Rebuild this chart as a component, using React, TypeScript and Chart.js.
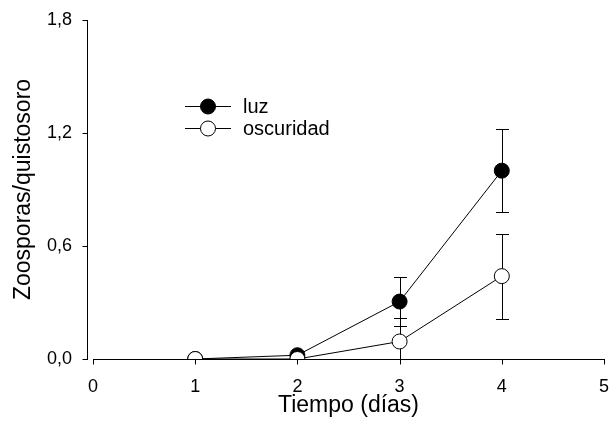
import React, { useEffect, useRef } from "react";
import { Chart, registerables } from "chart.js";

Chart.register(...registerables);

const days = [1, 2, 3, 4];
const luz = [0, 0.02, 0.305, 1.0];
const luzErr = [0, 0, 0.128, 0.22];
const oscuridad = [0, 0, 0.093, 0.44];
const oscuridadErr = [0, 0, 0.125, 0.225];
const xTicks = [0, 1, 2, 3, 4, 5];
const yTicks = [0, 0.6, 1.2, 1.8];
const seriesNames = ["luz", "oscuridad"];

const FONT = "'Liberation Sans', Arial, sans-serif";
const AREA = { left: 93, right: 604, top: 20, bottom: 359 };
const W = 614;
const H = 421;

const fixedAreaPlugin = {
  id: "fixedArea",
  afterLayout(chart: any) {
    const { left, right, top, bottom } = AREA;
    chart.chartArea = { left, right, top, bottom, width: right - left, height: bottom - top };
    const x = chart.scales.x;
    x.left = left; x.right = right; x.width = right - left;
    x.top = bottom; x.bottom = H; x.height = H - bottom;
    x.configure();
    const y = chart.scales.y;
    y.left = 0; y.right = left; y.width = left;
    y.top = top; y.bottom = bottom; y.height = bottom - top;
    y.configure();
  },
};

const errorBarPlugin = {
  id: "errorBars",
  beforeDatasetsDraw(chart: any) {
    const ctx = chart.ctx;
    const xs = chart.scales.x;
    const ys = chart.scales.y;
    const area = chart.chartArea;
    const sets = [
      { v: luz, e: luzErr },
      { v: oscuridad, e: oscuridadErr },
    ];
    ctx.save();
    ctx.beginPath();
    ctx.rect(area.left - 10, area.top - 10, area.right - area.left + 20, area.bottom - area.top + 10);
    ctx.clip();
    ctx.strokeStyle = "#000";
    ctx.lineWidth = 1;
    sets.forEach((s) => {
      s.v.forEach((val, i) => {
        const err = s.e[i];
        if (!err) return;
        const x = Math.round(xs.getPixelForValue(days[i])) + 0.5;
        const yHi = Math.round(ys.getPixelForValue(val + err)) + 0.5;
        const yLo = Math.round(ys.getPixelForValue(Math.max(val - err, 0))) + 0.5;
        ctx.beginPath();
        ctx.moveTo(x, yHi);
        ctx.lineTo(x, yLo);
        ctx.moveTo(x - 6.5, yHi);
        ctx.lineTo(x + 6.5, yHi);
        if (val - err > 0) {
          ctx.moveTo(x - 6.5, yLo);
          ctx.lineTo(x + 6.5, yLo);
        }
        ctx.stroke();
      });
    });
    ctx.restore();
  },
};

const axesPlugin = {
  id: "sigmaAxes",
  afterDraw(chart: any) {
    const ctx = chart.ctx;
    const xs = chart.scales.x;
    const ys = chart.scales.y;
    const area = chart.chartArea;
    ctx.save();
    ctx.strokeStyle = "#000";
    ctx.lineWidth = 1;
    const yAxisX = area.left - 5.5;
    ctx.beginPath();
    ctx.moveTo(yAxisX, Math.round(ys.getPixelForValue(1.8)));
    ctx.lineTo(yAxisX, Math.round(ys.getPixelForValue(0)) + 1);
    yTicks.forEach((t) => {
      const y = Math.round(ys.getPixelForValue(t)) + 0.5;
      ctx.moveTo(yAxisX - 5, y);
      ctx.lineTo(yAxisX, y);
    });
    const xAxisY = Math.round(area.bottom) + 0.5;
    ctx.moveTo(Math.round(xs.getPixelForValue(0)), xAxisY);
    ctx.lineTo(Math.round(xs.getPixelForValue(5)) + 1, xAxisY);
    xTicks.forEach((t) => {
      const x = Math.round(xs.getPixelForValue(t)) + 0.5;
      ctx.moveTo(x, xAxisY);
      ctx.lineTo(x, xAxisY + 5);
    });
    ctx.stroke();

    // legend
    const lx = area.left + 115;
    const rows = [area.top + 86, area.top + 108];
    const fills = ["#000", "#fff"];
    ctx.font = `20px ${FONT}`;
    ctx.textBaseline = "middle";
    ctx.textAlign = "left";
    rows.forEach((ry, i) => {
      const y = Math.round(ry) + 0.5;
      ctx.beginPath();
      ctx.moveTo(lx - 23, y);
      ctx.lineTo(lx + 23, y);
      ctx.stroke();
      ctx.beginPath();
      ctx.arc(lx, y, 7.5, 0, Math.PI * 2);
      ctx.fillStyle = fills[i];
      ctx.fill();
      ctx.stroke();
      ctx.fillStyle = "#000";
      ctx.fillText(seriesNames[i], lx + 35, y + 1);
    });
    ctx.restore();
  },
};

export default function App() {
  const ref = useRef<HTMLCanvasElement>(null);
  useEffect(() => {
    document.body.style.margin = "0";
    const canvas = ref.current!;
    const chart = new Chart(canvas, {
      type: "line",
      data: {
        datasets: [
          {
            label: seriesNames[0],
            data: days.map((d, i) => ({ x: d, y: luz[i] })),
            borderColor: "#000",
            borderWidth: 1,
            pointRadius: 7.5,
            pointBackgroundColor: "#000",
            pointBorderColor: "#000",
            pointBorderWidth: 1,
            tension: 0,
            order: 1,
          },
          {
            label: seriesNames[1],
            data: days.map((d, i) => ({ x: d, y: oscuridad[i] })),
            borderColor: "#000",
            borderWidth: 1,
            pointRadius: 7.5,
            pointBackgroundColor: "#fff",
            pointBorderColor: "#000",
            pointBorderWidth: 1,
            tension: 0,
            order: 0,
          },
        ],
      },
      options: {
        animation: false,
        responsive: false,
        events: [],
        layout: { padding: { top: 20, right: 10, left: 0, bottom: 0 } },
        plugins: { legend: { display: false }, tooltip: { enabled: false } },
        scales: {
          x: {
            type: "linear",
            min: 0,
            max: 5,
            afterBuildTicks: (s: any) => {
              s.ticks = xTicks.map((v) => ({ value: v }));
            },
            grid: { display: false, drawTicks: false },
            border: { display: false },
            ticks: {
              color: "#000",
              font: { family: FONT, size: 18 },
              padding: 17,
              callback: (v: any) => String(v),
            },
            title: {
              display: true,
              text: "Tiempo (días)",
              color: "#000",
              font: { family: FONT, size: 23 },
              padding: { top: 0, bottom: 2 },
            },
          },
          y: {
            type: "linear",
            min: 0,
            max: 1.8,
            afterBuildTicks: (s: any) => {
              s.ticks = yTicks.map((v) => ({ value: v }));
            },
            grid: { display: false, drawTicks: false },
            border: { display: false },
            ticks: {
              color: "#000",
              font: { family: FONT, size: 18 },
              padding: 21,
              callback: (v: any) => Number(v).toFixed(1).replace(".", ","),
            },
            title: {
              display: true,
              text: "Zoosporas/quistosoro",
              color: "#000",
              font: { family: FONT, size: 23 },
              padding: { top: 10, bottom: 0 },
            },
          },
        },
      },
      plugins: [fixedAreaPlugin, errorBarPlugin, axesPlugin],
    } as any);
    return () => chart.destroy();
  }, []);
  return (
    <div style={{ position: "absolute", left: 0, top: 0, width: W, height: H }}>
      <canvas ref={ref} width={W} height={H} />
    </div>
  );
}
